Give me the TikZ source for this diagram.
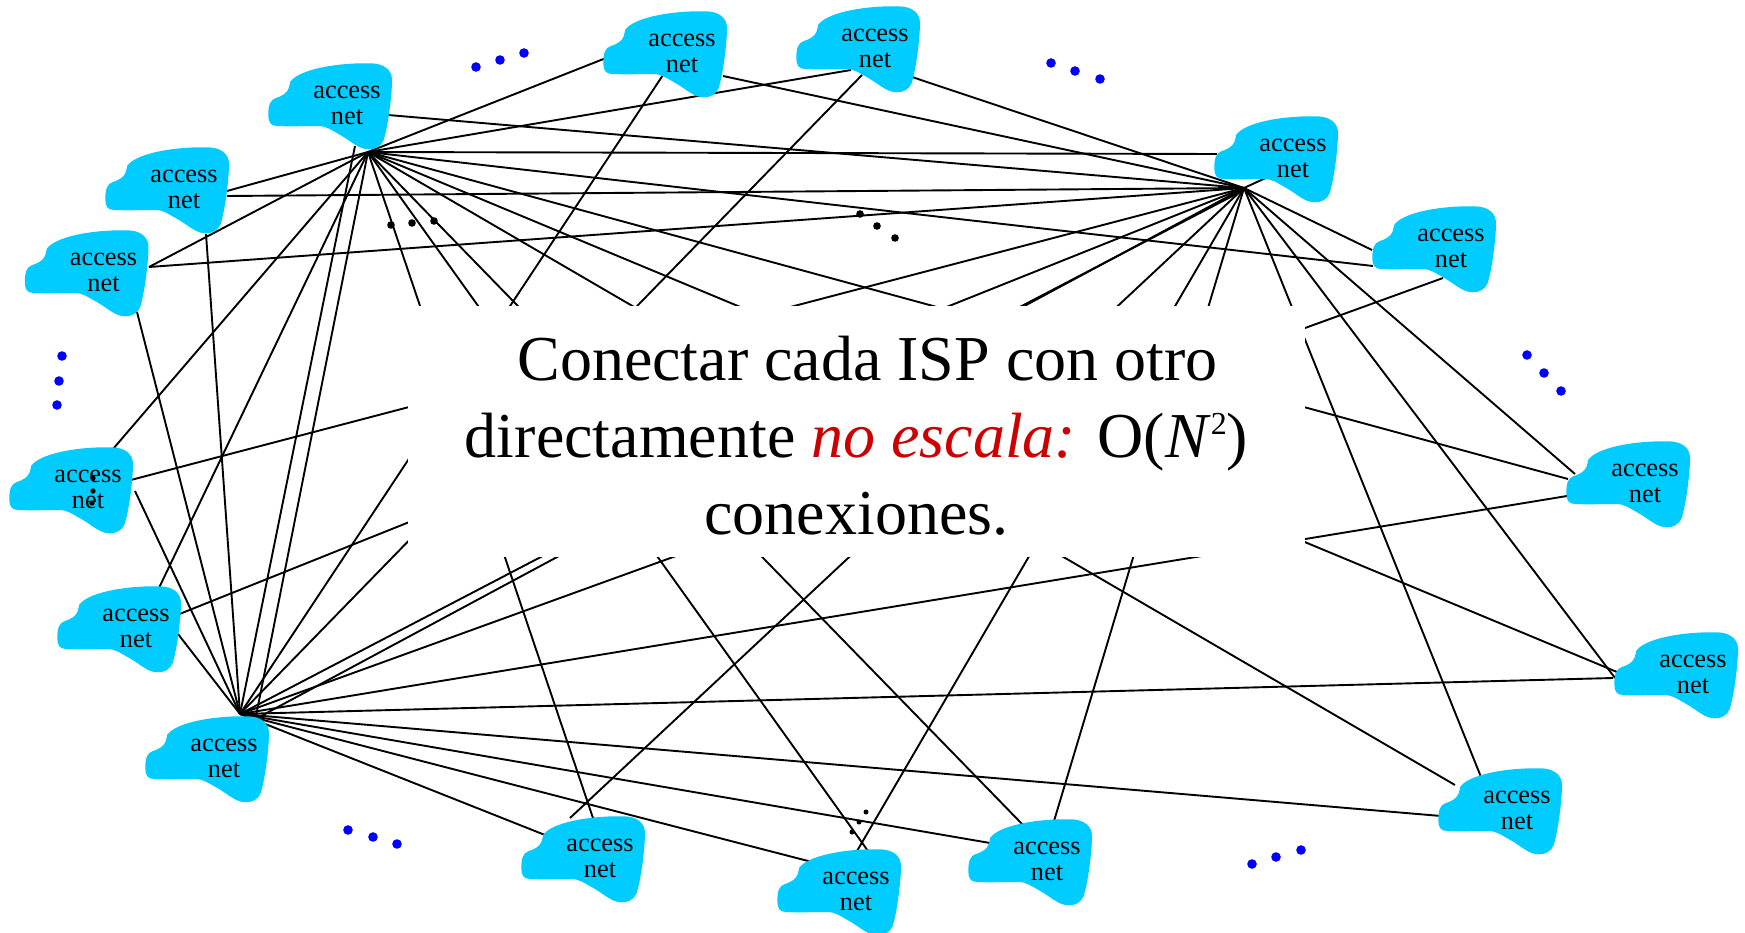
\documentclass[tikz,border=0pt]{standalone}
\usepackage{fontspec}
\setmainfont{Liberation Serif}
\usetikzlibrary{backgrounds}
\definecolor{netblue}{HTML}{00CCFF}
\definecolor{dotblue}{HTML}{0000FF}
\definecolor{slogred}{HTML}{CC0000}
\tikzset{
    link/.style={line width=1.9pt, black},
    netlabel/.style={align=center, inner sep=0pt, yshift=-1.5pt, font=\fontsize{26.3}{26.5}\selectfont},
    msgbox/.style={fill=white, inner sep=0pt, minimum width=897pt, minimum height=251pt},
    msgtext/.style={align=center, inner sep=0pt, font=\fontsize{64}{77}\selectfont},
    netblob/.pic={
        \fill[netblue] (-56.7,-22.3) .. controls (-48.3,-34) and (-13.3,-41.3) .. (23.3,-40.7)
            .. controls (36.7,-40.7) and (45,-34) .. (45,-24)
            .. controls (45,-10.7) and (41.7,19.3) .. (36.7,36)
            .. controls (34,42.7) and (28.3,45.3) .. (21.7,45.3)
            .. controls (11.7,45.3) and (5,37.7) .. (-6.7,31)
            .. controls (-16.7,25.3) and (-21.7,22) .. (-28.3,22)
            .. controls (-43.3,22) and (-56.7,22.7) .. (-70,22)
            .. controls (-76.7,22) and (-78.7,17.7) .. (-78.7,11)
            .. controls (-78.7,1) and (-76.7,-4) .. (-71.7,-5.7)
            .. controls (-65,-8) and (-60,-10.7) .. (-58.3,-15.7)
            .. controls (-57.7,-18) and (-57,-20.7) .. (-56.7,-22.3) -- cycle;
    }
}

\begin{document}
\begin{tikzpicture}[x=1pt, y=-1pt]
\useasboundingbox (0,0) rectangle (1745,933);

\coordinate (hubA) at (368,152);
\coordinate (hubB) at (1244,188);
\coordinate (hubC) at (240,714);

\coordinate (a2) at (227,191);
\coordinate (a3) at (149,267);
\coordinate (a4) at (113,449);
\coordinate (a5) at (158,590);
\coordinate (a6) at (256,716);
\coordinate (a7) at (593,818);
\coordinate (a8) at (868,851);
\coordinate (a9) at (1024,826);
\coordinate (a10) at (1455,785);
\coordinate (a11) at (1617,672);
\coordinate (a12) at (1568,479);
\coordinate (a13) at (1373,266);
\coordinate (a14) at (1217,154);
\coordinate (a15) at (851,70);
\coordinate (a16) at (606,58);

\coordinate (b0) at (1244,190);
\coordinate (b1) at (388,115);
\coordinate (b2) at (227,196);
\coordinate (b3) at (149,267);
\coordinate (b4) at (127,481);
\coordinate (b5) at (177,615);
\coordinate (b6) at (250,722);
\coordinate (b7) at (570,818);
\coordinate (b8) at (857,851);
\coordinate (b9) at (1054,821);
\coordinate (b10) at (1481,777);
\coordinate (b11) at (1615,678);
\coordinate (b12) at (1575,474);
\coordinate (b13) at (1372,250);
\coordinate (b14) at (1270,176);
\coordinate (b15) at (912,77);
\coordinate (b16) at (723,76);

\coordinate (c1) at (355,146);
\coordinate (c2) at (206,234);
\coordinate (c3) at (137,312);
\coordinate (c4) at (135,491);
\coordinate (c5) at (178,634);
\coordinate (c7) at (545,835);
\coordinate (c8) at (812,862);
\coordinate (c9) at (990,843);
\coordinate (c10) at (1441,816);
\coordinate (c11) at (1613,678);
\coordinate (c12) at (1567,496);
\coordinate (c13) at (1443,278);
\coordinate (c15) at (862,75);
\coordinate (c16) at (663,75);

\begin{scope}[on background layer]
    \draw[link] (hubA) -- (a2);
    \draw[link] (hubA) -- (a3);
    \draw[link] (hubA) -- (a4);
    \draw[link] (hubA) -- (a5);
    \draw[link] (hubA) -- (a6);
    \draw[link] (hubA) -- (a7);
    \draw[link] (hubA) -- (a8);
    \draw[link] (hubA) -- (a9);
    \draw[link] (hubA) -- (a10);
    \draw[link] (hubA) -- (a11);
    \draw[link] (hubA) -- (a12);
    \draw[link] (hubA) -- (a13);
    \draw[link] (hubA) -- (a14);
    \draw[link] (hubA) -- (a15);
    \draw[link] (hubA) -- (a16);

    \draw[link] (hubB) -- (b1);
    \draw[link] (hubB) -- (b2);
    \draw[link] (hubB) -- (b3);
    \draw[link] (hubB) -- (b4);
    \draw[link] (hubB) -- (b5);
    \draw[link] (hubB) -- (b6);
    \draw[link] (b0) -- (hubC);
    \draw[link] (hubB) -- (b7);
    \draw[link] (hubB) -- (b8);
    \draw[link] (hubB) -- (b9);
    \draw[link] (hubB) -- (b10);
    \draw[link] (hubB) -- (b11);
    \draw[link] (hubB) -- (b12);
    \draw[link] (hubB) -- (b13);
    \draw[link] (hubB) -- (b14);
    \draw[link] (hubB) -- (b15);
    \draw[link] (hubB) -- (b16);

    \draw[link] (hubC) -- (c1);
    \draw[link] (hubC) -- (c2);
    \draw[link] (hubC) -- (c3);
    \draw[link] (hubC) -- (c4);
    \draw[link] (hubC) -- (c5);
    \draw[link] (hubC) -- (c7);
    \draw[link] (hubC) -- (c8);
    \draw[link] (hubC) -- (c9);
    \draw[link] (hubC) -- (c10);
    \draw[link] (hubC) -- (c11);
    \draw[link] (hubC) -- (c12);
    \draw[link] (hubC) -- (c13);
    \draw[link] (hubC) -- (c15);
    \draw[link] (hubC) -- (c16);
\end{scope}

\pic at (347,104) {netblob};
\node[netlabel] (net1) at (347,104) {access\\net};
\pic at (184,188) {netblob};
\node[netlabel] (net2) at (184,188) {access\\net};
\pic at (103.5,271) {netblob};
\node[netlabel] (net3) at (103.5,271) {access\\net};
\pic at (88,488) {netblob};
\node[netlabel] (net4) at (88,488) {access\\net};
\pic at (136,627) {netblob};
\node[netlabel] (net5) at (136,627) {access\\net};
\pic at (224,757) {netblob};
\node[netlabel] (net6) at (224,757) {access\\net};
\pic at (600,857) {netblob};
\node[netlabel] (net7) at (600,857) {access\\net};
\pic at (856,890) {netblob};
\node[netlabel] (net8) at (856,890) {access\\net};
\pic at (1047,860) {netblob};
\node[netlabel] (net9) at (1047,860) {access\\net};
\pic at (1517,809) {netblob};
\node[netlabel] (net10) at (1517,809) {access\\net};
\pic at (1693,673) {netblob};
\node[netlabel] (net11) at (1693,673) {access\\net};
\pic at (1645,482) {netblob};
\node[netlabel] (net12) at (1645,482) {access\\net};
\pic at (1451,247) {netblob};
\node[netlabel] (net13) at (1451,247) {access\\net};
\pic at (1293,157) {netblob};
\node[netlabel] (net14) at (1293,157) {access\\net};
\pic at (875,47) {netblob};
\node[netlabel] (net15) at (875,47) {access\\net};
\pic at (682,52) {netblob};
\node[netlabel] (net16) at (682,52) {access\\net};

\node[msgbox] (msgback) at (856.5,431.5) {};
\node[msgtext] (msg) at (856.5,436) {\hspace*{22pt}Conectar cada ISP con otro\\
    directamente \textcolor{slogred}{\textit{no escala:}} O(\textit{N}\raisebox{0.36em}{\fontsize{32}{32}\selectfont 2})\\
    conexiones.};

\fill[dotblue] (476,67) circle (4.8);
\fill[dotblue] (500,60) circle (4.8);
\fill[dotblue] (524,53) circle (4.8);
\fill[dotblue] (1051,63) circle (4.8);
\fill[dotblue] (1075,71) circle (4.8);
\fill[dotblue] (1100,79) circle (4.8);
\fill[dotblue] (1527,355) circle (4.8);
\fill[dotblue] (1544,373) circle (4.8);
\fill[dotblue] (1561,391) circle (4.8);
\fill[dotblue] (62,356) circle (4.8);
\fill[dotblue] (59,381) circle (4.8);
\fill[dotblue] (57,405) circle (4.8);
\fill[dotblue] (348,830) circle (4.8);
\fill[dotblue] (373,837) circle (4.8);
\fill[dotblue] (397,844) circle (4.8);
\fill[dotblue] (1252,864) circle (4.8);
\fill[dotblue] (1276,857) circle (4.8);
\fill[dotblue] (1301,850) circle (4.8);

\fill (391,225) circle (3.8);
\fill (412,223) circle (3.8);
\fill (434,221) circle (3.8);
\fill (860,214) circle (3.8);
\fill (877,226) circle (3.8);
\fill (895,238) circle (3.8);
\fill (866,812) circle (2.5);
\fill (859,822) circle (2.5);
\fill (852,832) circle (2.5);
\fill (93,478) circle (2.7);
\fill (93,491) circle (2.7);
\fill (92,503) circle (2.7);
\end{tikzpicture}
\end{document}
